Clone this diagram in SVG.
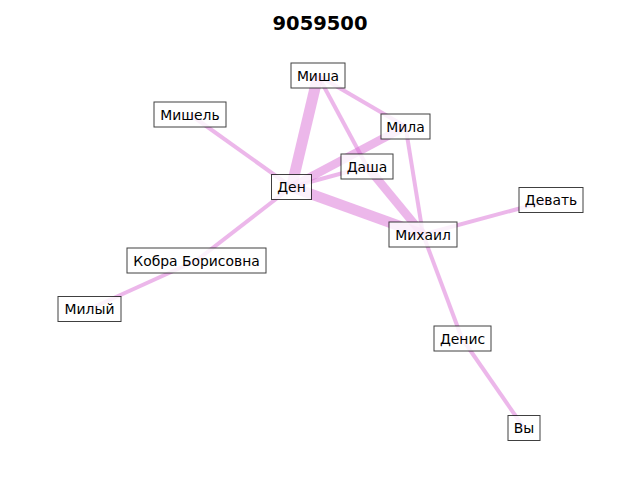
<svg xmlns="http://www.w3.org/2000/svg" width="640" height="480" viewBox="0 0 640 480">
<style>
.e{stroke:#da70d6;stroke-opacity:0.5;fill:none;stroke-linecap:butt}
.b{fill:#ffffff;fill-opacity:0.8;stroke:#000000;stroke-opacity:0.75;stroke-width:1}
.t{font-family:"DejaVu Sans",sans-serif;font-size:13.9px;fill:#000000;text-anchor:middle}
.title{font-family:"DejaVu Sans",sans-serif;font-size:19.5px;font-weight:bold;fill:#000000;text-anchor:middle}
</style>
<rect width="640" height="480" fill="#ffffff"/>
<text class="title" x="320" y="30">9059500</text>
<g id="connectors">
<line class="e" x1="318" y1="75.5" x2="291.5" y2="187" stroke-width="11"/>
<line class="e" x1="318" y1="75.5" x2="405.5" y2="126.5" stroke-width="4"/>
<line class="e" x1="318" y1="75.5" x2="367" y2="166.5" stroke-width="4"/>
<line class="e" x1="405.5" y1="126.5" x2="291.5" y2="187" stroke-width="8.5"/>
<line class="e" x1="367" y1="166.5" x2="291.5" y2="187" stroke-width="4"/>
<line class="e" x1="291.5" y1="187" x2="423" y2="234.5" stroke-width="10.5"/>
<line class="e" x1="367" y1="166.5" x2="423" y2="234.5" stroke-width="8.5"/>
<line class="e" x1="405.5" y1="126.5" x2="423" y2="234.5" stroke-width="4"/>
<line class="e" x1="291.5" y1="187" x2="190" y2="114.5" stroke-width="4"/>
<line class="e" x1="291.5" y1="187" x2="196.5" y2="260.5" stroke-width="4"/>
<line class="e" x1="196.5" y1="260.5" x2="89.5" y2="309" stroke-width="4"/>
<line class="e" x1="423" y1="234.5" x2="551" y2="200" stroke-width="4"/>
<line class="e" x1="423" y1="234.5" x2="462" y2="338.5" stroke-width="4"/>
<line class="e" x1="462" y1="338.5" x2="524" y2="428" stroke-width="4"/>
</g>
<g id="n-misha"><rect class="b" x="291" y="63" width="54" height="25"/><text class="t" x="318" y="80.5">Миша</text></g>
<g id="n-mila"><rect class="b" x="381" y="114" width="49" height="25"/><text class="t" x="405.5" y="131.5">Мила</text></g>
<g id="n-dasha"><rect class="b" x="341" y="154" width="52" height="25"/><text class="t" x="367" y="171.5">Даша</text></g>
<g id="n-den"><rect class="b" x="271.5" y="174.5" width="40" height="25"/><text class="t" x="291.5" y="192">Ден</text></g>
<g id="n-mikhail"><rect class="b" x="389" y="222" width="68" height="25"/><text class="t" x="423" y="239.5">Михаил</text></g>
<g id="n-mishel"><rect class="b" x="154" y="102" width="72" height="25"/><text class="t" x="190" y="119.5">Мишель</text></g>
<g id="n-kobra"><rect class="b" x="127" y="248" width="139" height="25"/><text class="t" x="196.5" y="265.5">Кобра Борисовна</text></g>
<g id="n-milyi"><rect class="b" x="58" y="296.5" width="63" height="25"/><text class="t" x="89.5" y="314">Милый</text></g>
<g id="n-devat"><rect class="b" x="519" y="187.5" width="64" height="25"/><text class="t" x="551" y="205">Девать</text></g>
<g id="n-denis"><rect class="b" x="434" y="326" width="57" height="25"/><text class="t" x="462.5" y="343.5">Денис</text></g>
<g id="n-vy"><rect class="b" x="508" y="415.5" width="32" height="25"/><text class="t" x="524" y="433">Вы</text></g>
</svg>
